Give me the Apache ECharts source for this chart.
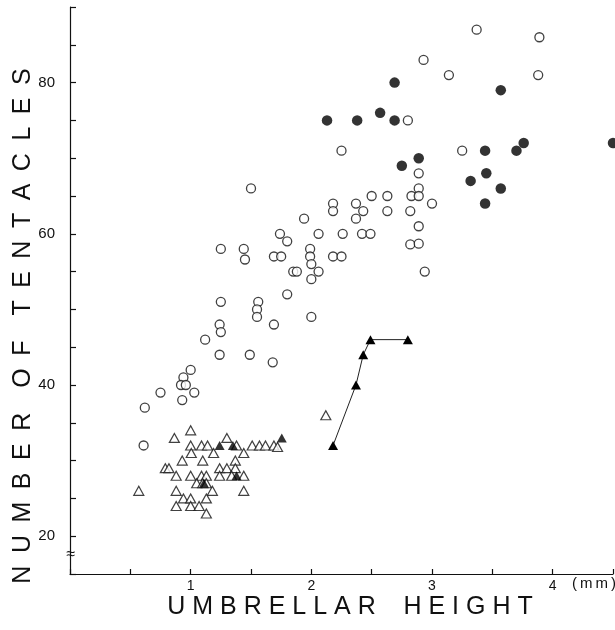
<!DOCTYPE html>
<html>
<head>
<meta charset="utf-8">
<script src="https://cdn.jsdelivr.net/npm/echarts@6/dist/echarts.min.js"></script>
<style>
html,body{margin:0;padding:0;background:#fff;}
#chart{width:615px;height:630px;}
</style>
</head>
<body>
<div id="chart"></div>
<script>
// ---- data (umbrellar height in mm, number of tentacles) ----
var openCircles = [[3.37,87],[3.89,86],[2.93,83],[3.14,81],[3.88,81],[2.80,75],[2.25,71],[3.25,71],[2.89,68],[2.89,66],[1.50,66],[2.50,65],[2.63,65],[2.83,65],[2.89,65],[3.00,64],[2.18,64],[2.37,64],[2.18,63],[2.43,63],[2.63,63],[2.82,63],[2.37,62],[1.94,62],[2.89,61],[1.74,60],[2.06,60],[2.26,60],[2.42,60],[2.49,60],[1.80,59],[2.82,58.6],[2.89,58.7],[1.25,58],[1.44,58],[1.99,58],[1.45,56.6],[1.69,57],[1.75,57],[1.99,57],[2.18,57],[2.25,57],[2.00,56],[1.85,55],[1.88,55],[2.06,55],[2.94,55],[2.00,54],[1.80,52],[1.25,51],[1.56,51],[1.55,50],[1.55,49],[2.00,49],[1.24,48],[1.69,48],[1.25,47],[1.12,46],[1.24,44],[1.49,44],[1.68,43],[1.00,42],[0.94,41],[0.92,40],[0.96,40],[0.75,39],[1.03,39],[0.93,38],[0.62,37],[0.61,32]];
var filledCircles = [[2.13,75],[2.38,75],[2.57,76],[2.69,75],[2.69,80],[2.75,69],[2.89,70],[3.32,67],[3.44,71],[3.45,68],[3.44,64],[3.57,79],[3.57,66],[3.70,71],[3.76,72],[4.50,72]];
var openTriangles = [[2.12,36],[1.00,34],[0.865,33],[1.30,33],[1.00,32],[1.09,32],[1.14,32],[1.38,32],[1.51,32],[1.57,32],[1.62,32],[1.69,32],[1.72,31.8],[1.005,31],[1.19,31],[1.44,31],[0.93,30],[1.10,30],[1.37,30],[0.79,29],[0.82,29],[1.24,29],[1.30,29],[1.37,29],[0.88,28],[1.00,28],[1.09,28],[1.13,28],[1.24,28],[1.34,28],[1.44,28],[1.05,27],[1.10,27],[1.13,27],[0.57,26],[0.88,26],[1.18,26],[1.44,26],[0.94,25],[1.00,25],[1.13,25],[0.88,24],[1.00,24],[1.07,24],[1.13,23]];
var filledTriangles = [[1.24,32],[1.35,32],[1.755,33],[1.38,28],[1.11,27]];
var filledTriangleTrack = [[2.18,32],[2.37,40],[2.43,44],[2.49,46],[2.80,46]];
var xTickLabels = [1,2,3,4];
var yTickLabels = [20,40,60,80];
var xTitle = 'UMBRELLAR HEIGHT';
var yTitle = 'NUMBER OF TENTACLES';
var xUnit = '(mm)';

function spaced(s, letterGap, wordGap){
  return s.split(' ').map(function(w){return w.split('').join(letterGap);}).join(wordGap);
}

var chart = echarts.init(document.getElementById('chart'), null, {renderer:'canvas'});
var font = 'Liberation Sans, Arial, sans-serif';
var option = {
  backgroundColor:'#fff',
  animation:false,
  grid:{left:70,right:2,top:7,bottom:56,containLabel:false,outerBoundsMode:'none'},
  xAxis:{
    type:'value',min:0,max:4.5,interval:0.5,
    axisLine:{show:true,onZero:false,lineStyle:{color:'#111',width:1.2}},
    axisTick:{show:true,inside:true,length:5,lineStyle:{color:'#111',width:1.2}},
    splitLine:{show:false},
    axisLabel:{color:'#111',fontSize:14,fontFamily:font,margin:5,
      formatter:function(v){return xTickLabels.indexOf(Math.round(v*100)/100)>=0 ? String(v) : '';}}
  },
  yAxis:{
    type:'value',min:15,max:90,interval:5,
    axisLine:{show:true,onZero:false,lineStyle:{color:'#111',width:1.2}},
    axisTick:{show:true,inside:true,length:6,lineStyle:{color:'#111',width:1.2}},
    splitLine:{show:false},
    axisLabel:{color:'#111',fontSize:15,fontFamily:font,margin:15,
      formatter:function(v){return yTickLabels.indexOf(v)>=0 ? String(v) : '';}}
  },
  series:[
    {type:'scatter',data:openCircles,symbol:'circle',symbolSize:9,
     itemStyle:{color:'#fff',borderColor:'#111',borderWidth:1.3},z:3},
    {type:'scatter',data:filledCircles,symbol:'circle',symbolSize:10.5,
     itemStyle:{color:'#000'},z:4,clip:false},
    {type:'scatter',data:openTriangles,symbol:'triangle',symbolSize:[10,9],
     itemStyle:{color:'#fff',borderColor:'#111',borderWidth:1.2},z:3},
    {type:'scatter',data:filledTriangles,symbol:'triangle',symbolSize:[10,9],
     itemStyle:{color:'#000'},z:4},
    {type:'line',data:filledTriangleTrack,symbol:'triangle',symbolSize:[10,9],showSymbol:true,
     lineStyle:{color:'#222',width:1},itemStyle:{color:'#000'},z:4}
  ],
  graphic:[
    {type:'text',x:350,y:607,
     style:{text:spaced(xTitle,' ','    '),font:'25px '+font,fill:'#111',
       align:'center',verticalAlign:'middle'}},
    {type:'text',x:23,y:326,rotation:Math.PI/2,
     style:{text:spaced(yTitle,'\u2002','\u2002\u2002'),font:'25px '+font,fill:'#111',
       align:'center',verticalAlign:'middle'}},
    {type:'text',x:572,y:576,
     style:{text:xUnit.split('').join('\u2009'),font:'15px '+font,fill:'#111'}},
    {type:'text',x:71,y:555,
     style:{text:'\u2248',font:'16px '+font,fill:'#111',align:'center',verticalAlign:'middle'}}
  ]
};
chart.setOption(option);
</script>
</body>
</html>
